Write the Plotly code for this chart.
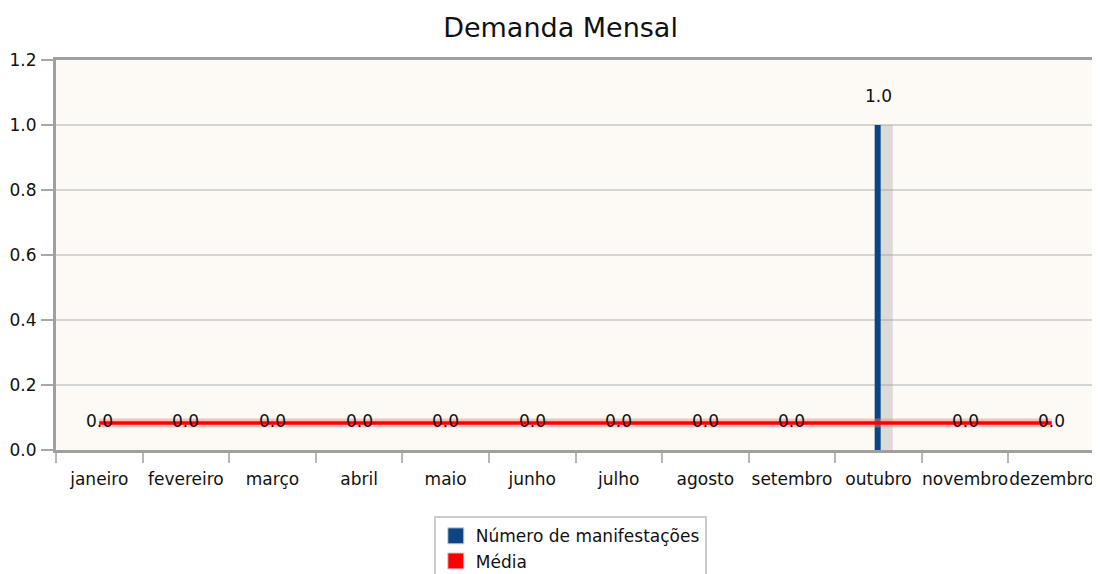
import plotly.graph_objects as go

months = ["janeiro", "fevereiro", "março", "abril", "maio", "junho", "julho",
          "agosto", "setembro", "outubro", "novembro", "dezembro"]
manifestacoes = [0, 0, 0, 0, 0, 0, 0, 0, 0, 1, 0, 0]
media = [sum(manifestacoes) / len(manifestacoes)] * len(months)
y_ticks = [0.0, 0.2, 0.4, 0.6, 0.8, 1.0, 1.2]

FONT = "DejaVu Sans, sans-serif"
BLUE = "#0b4584"
RED = "#ff0000"
TXT = "#111111"

fig = go.Figure()

# bar shadow
fig.add_trace(go.Bar(
    x=months, y=manifestacoes, width=0.14, offset=0.025,
    marker=dict(color="rgba(150,150,150,0.3)", line=dict(width=0)),
    showlegend=False, hoverinfo="skip"))
# bars
fig.add_trace(go.Bar(
    x=months, y=manifestacoes, width=0.07, offset=-0.045,
    name="Número de manifestações", showlegend=False,
    marker=dict(color=BLUE, line=dict(width=0))))
# média glow
fig.add_trace(go.Scatter(
    x=months, y=media, mode="lines",
    line=dict(color="rgba(255,120,120,0.45)", width=9),
    showlegend=False, hoverinfo="skip"))
# média line
fig.add_trace(go.Scatter(
    x=months, y=media, mode="lines", name="Média",
    line=dict(color=RED, width=3.5),
    showlegend=False))
# legend entries (square swatches)
fig.add_trace(go.Scatter(
    x=[None], y=[None], mode="markers", name="Número de manifestações",
    marker=dict(symbol="square", size=16, color=BLUE,
                line=dict(color="#d0d0d0", width=1))))
fig.add_trace(go.Scatter(
    x=[None], y=[None], mode="markers", name="Média",
    marker=dict(symbol="square", size=16, color=RED,
                line=dict(color="#d0d0d0", width=1))))

annotations = []
for m, v in zip(months, manifestacoes):
    annotations.append(dict(
        x=m, y=v, xref="x", yref="y", text=f"{v:.1f}", showarrow=False,
        yshift=29, font=dict(family=FONT, size=17, color=TXT)))

fig.update_layout(
    width=1092, height=566,
    margin=dict(l=48, r=5, t=52, b=124, autoexpand=False),
    paper_bgcolor="white",
    plot_bgcolor="#fdf9f5",
    barmode="overlay",
    title=dict(text="Demanda Mensal", x=0.506, xanchor="center",
               y=0.965, yanchor="middle",
               font=dict(family=FONT, size=27, color=TXT)),
    font=dict(family=FONT, size=17, color=TXT),
    annotations=annotations,
    legend=dict(
        x=0.495, xanchor="center", y=-0.17, yanchor="top",
        bgcolor="white", bordercolor="#cccccc", borderwidth=2,
        font=dict(family=FONT, size=17, color=TXT),
        tracegroupgap=0, itemsizing="trace", itemwidth=30),
    xaxis=dict(
        type="category", categoryorder="array", categoryarray=months,
        range=[-0.5, len(months) - 0.5], tickangle=0,
        showgrid=False, tickson="boundaries", automargin=False,
        ticks="outside", ticklen=10, tickcolor="#b8b8b8", tickwidth=2,
        showline=True, linecolor="#a0a0a0", linewidth=3, mirror=True,
        ticklabelstandoff=12,
        tickfont=dict(family=FONT, size=17, color=TXT),
        zeroline=False),
    yaxis=dict(
        range=[0, 1.2], tickvals=y_ticks, tickformat=".1f", automargin=False,
        showgrid=True, gridcolor="#d4d4d4", gridwidth=1.5,
        ticks="outside", ticklen=12, tickcolor="#a8a8a8", tickwidth=2,
        showline=True, linecolor="#a0a0a0", linewidth=3, mirror=True,
        ticklabelstandoff=1,
        tickfont=dict(family=FONT, size=17, color=TXT),
        zeroline=False),
)

fig.write_html("out.html")
